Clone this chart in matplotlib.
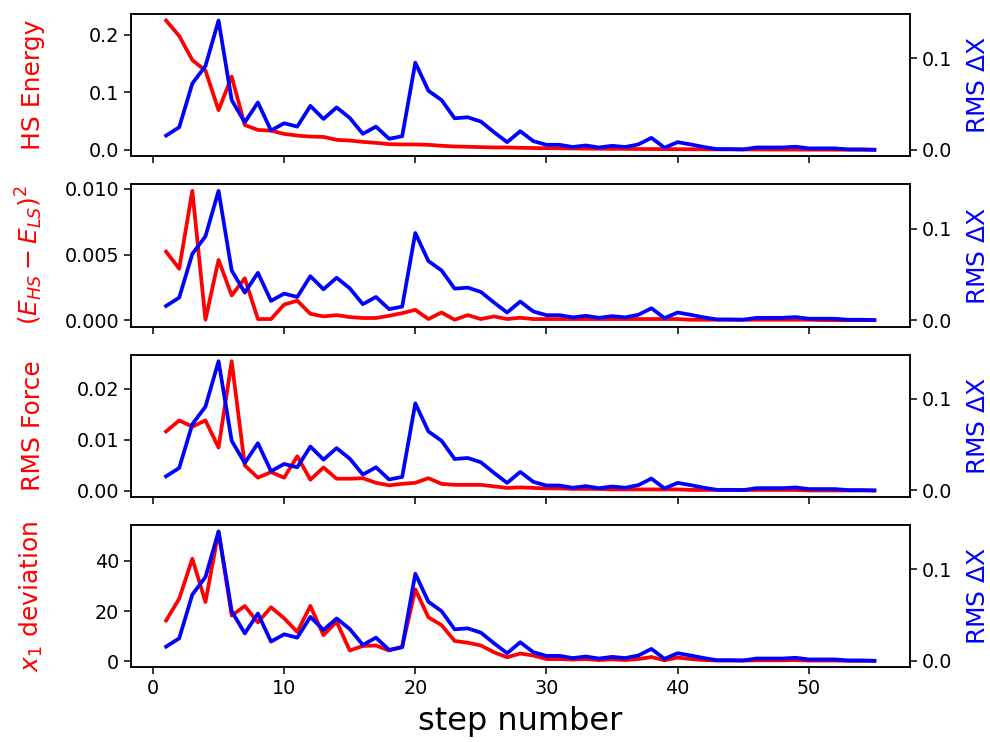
import numpy as np
import matplotlib
matplotlib.use('Agg')
import matplotlib.pyplot as plt

# step numbers
steps = list(range(1, 56))

# RMS dX (same in every panel, right axis)
rms_dx = [0.0155, 0.0246, 0.0724, 0.0916, 0.1413, 0.0543, 0.030, 0.0517, 0.021, 0.029,
          0.0253, 0.048, 0.0337, 0.0463, 0.0348, 0.0174, 0.0253, 0.012, 0.0148, 0.0952,
          0.0645, 0.0543, 0.0344, 0.0355, 0.0308, 0.0192, 0.0083, 0.0203, 0.0094, 0.0054,
          0.0054, 0.003, 0.0047, 0.0025, 0.0043, 0.003, 0.0058, 0.013, 0.0022, 0.0083,
          0.0058, 0.003, 0.0007, 0.0007, 0.0004, 0.0025, 0.0025, 0.0025, 0.0033, 0.0015,
          0.0015, 0.0015, 0.0004, 0.0004, 0.0]

hs_energy = [0.2245, 0.1976, 0.1558, 0.1375, 0.0687, 0.1271, 0.043, 0.0344, 0.0332, 0.0275,
             0.0246, 0.0229, 0.0223, 0.0172, 0.016, 0.0137, 0.012, 0.0097, 0.0092, 0.0092,
             0.0086, 0.0069, 0.0057, 0.0052, 0.0046, 0.004, 0.004, 0.0034, 0.003, 0.0027,
             0.0025, 0.0022, 0.002, 0.0018, 0.0016, 0.0015, 0.0013, 0.0012, 0.0011, 0.001,
             0.0009, 0.0008, 0.0007, 0.0006, 0.0005, 0.0005, 0.0004, 0.0003, 0.0003, 0.0002,
             0.0002, 0.0001, 0.0001, 0.0001, 0.0]

de_sq = [0.00523, 0.00393, 0.00985, 0.00005, 0.0046, 0.0019, 0.0032, 0.0001, 0.0001, 0.0012,
         0.0015, 0.0005, 0.0003, 0.0004, 0.00025, 0.00018, 0.00018, 0.00035, 0.00055, 0.0008,
         0.0001, 0.0006, 0.00005, 0.0004, 0.0001, 0.0003, 0.0001, 0.0002, 0.0001, 0.0001,
         0.0001, 0.0001, 0.0001, 0.0001, 0.0001, 0.0001, 0.0001, 0.0001, 0.0001, 0.0001,
         0.00005, 0.00005, 0.00005, 0.00005, 0.00005, 0.00005, 0.00005, 0.00005, 0.00005, 0.00005,
         0.00002, 0.00002, 0.00002, 0.00002, 0.00002]

rms_force = [0.01165, 0.0138, 0.0126, 0.0138, 0.0085, 0.0254, 0.005, 0.0026, 0.0037, 0.0026,
             0.0068, 0.0022, 0.0046, 0.0024, 0.0024, 0.0025, 0.0016, 0.0011, 0.0014, 0.0016,
             0.0025, 0.0014, 0.0012, 0.0012, 0.0012, 0.0009, 0.0006, 0.0007, 0.0006, 0.0005,
             0.0005, 0.0004, 0.0004, 0.0004, 0.0003, 0.0003, 0.0003, 0.0003, 0.0003, 0.0003,
             0.0002, 0.0002, 0.0002, 0.0002, 0.0002, 0.0002, 0.0002, 0.0002, 0.0002, 0.0001,
             0.0001, 0.0001, 0.0001, 0.0001, 0.0001]

x1_dev = [16.2, 24.9, 40.8, 23.6, 51.6, 18.2, 22.0, 15.5, 21.5, 17.1,
          11.7, 22.0, 10.4, 15.8, 4.3, 6.1, 6.3, 4.3, 5.8, 28.6,
          17.5, 14.4, 8.1, 7.4, 6.3, 3.6, 1.6, 3.1, 2.3, 0.9,
          0.9, 0.7, 0.9, 0.5, 0.8, 0.5, 0.9, 1.7, 0.4, 1.5,
          0.9, 0.5, 0.3, 0.3, 0.3, 0.4, 0.4, 0.4, 0.5, 0.3,
          0.3, 0.3, 0.2, 0.2, 0.2]

left_series = [hs_energy, de_sq, rms_force, x1_dev]
left_labels = ['HS Energy', r'$(E_{HS}-E_{LS})^2$', 'RMS Force', r'$x_1$ deviation']

plt.rcParams['axes.linewidth'] = 1.1
for ax_name in ['xtick', 'ytick']:
    plt.rcParams[ax_name + '.major.size'] = 4.8
    plt.rcParams[ax_name + '.major.width'] = 1.1
    plt.rcParams[ax_name + '.labelsize'] = 13.8

fig, axes = plt.subplots(4, 1, sharex=True, figsize=(9.9, 7.42), dpi=100)
fig.subplots_adjust(left=0.132, right=0.919, bottom=0.1007, top=0.9811, hspace=0.198)

for ax, ydata, lab in zip(axes, left_series, left_labels):
    ax.plot(steps, ydata, 'r-', lw=2.7)
    ax.set_ylabel(lab, color='red', fontsize=18, labelpad=14)
    ax2 = ax.twinx()
    ax2.plot(steps, rms_dx, 'b-', lw=2.7)
    ax2.set_ylabel(r'RMS $\Delta$X', color='blue', fontsize=18, labelpad=10)

axes[-1].set_xticks([0, 10, 20, 30, 40, 50])
axes[-1].set_xlabel('step number', fontsize=23, labelpad=6)
fig.align_ylabels(axes)

plt.savefig('out.png', dpi=100)
